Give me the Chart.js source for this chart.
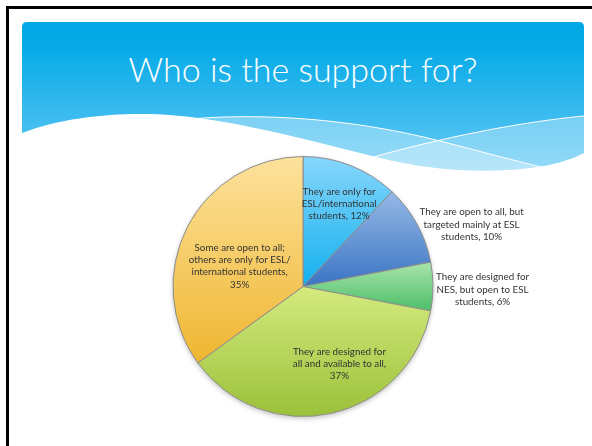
<!DOCTYPE html>
<html>
<head>
<meta charset="utf-8">
<script src="https://cdn.jsdelivr.net/npm/chart.js@4.4.0/dist/chart.umd.min.js"></script>
<style>
  html, body { margin: 0; padding: 0; background: #fff; }
  body { width: 592px; height: 446px; position: relative; overflow: hidden; }
  #frame { position: absolute; left: 6px; top: 6px; width: 620px; height: 480px; border: 3px solid #000; box-sizing: border-box; }
  #deco { position: absolute; left: 0; top: 0; }
  #title { position: absolute; left: 22px; width: 562px; top: 49px; text-align: center; color: #fff;
           font-family: Lato, "Open Sans", sans-serif; font-weight: 300; font-size: 34px; line-height: 40px; }
  #wrap { position: absolute; left: 0; top: 0; width: 592px; height: 446px; }
</style>
</head>
<body>
<div id="frame"></div>
<svg id="deco" width="592" height="446" viewBox="0 0 592 446">
  <defs>
    <linearGradient id="hdr" x1="0" y1="0" x2="0" y2="1">
      <stop offset="0" stop-color="#00a8e6"/>
      <stop offset="0.15" stop-color="#06aae7"/>
      <stop offset="1" stop-color="#6ccbf6"/>
    </linearGradient>
  </defs>
  <path d="M22,27 Q22,22 27,22 L579,22 Q584,22 584,27 L584,180 L22,180 Z" fill="url(#hdr)"/>
  <!-- light bands -->
  <path d="M190,119 C260,113 350,118 440,141 C490,154 520,162 545,168 L545,180 L190,180 Z" fill="#fff" fill-opacity="0.33"/>
  <path d="M370,158 C440,138 520,122 584,116 L584,180 L370,180 Z" fill="#fff" fill-opacity="0.3"/>
  <path d="M190,119 C260,113 350,118 440,141 C490,154 520,162 545,168" fill="none" stroke="#fff" stroke-width="1"/>
  <path d="M370,158 C440,138 520,122 584,116" fill="none" stroke="#fff" stroke-width="1"/>
  <!-- white wave -->
  <path d="M22,133 C60,118 110,113 150,114 C220,116 300,138 380,158 C430,170 480,174 530,168 C555,165 570,160 584,153 L584,200 L22,200 Z" fill="#fff"/>
</svg>
<div id="title">Who is the support for?</div>
<div id="wrap"><canvas id="pie" width="592" height="446"></canvas></div>
<script>
// slices clockwise from 12 o'clock
const categories = [
  ['They are only for', 'ESL/international', 'students,'],
  ['They are open to all, but', 'targeted mainly at ESL', 'students,'],
  ['They are designed for', 'NES, but open to ESL', 'students,'],
  ['They are designed for', 'all and available to all,', ''],
  ['Some are open to all;', 'others are only for ESL/', 'international students,', '']
];
const values = [12, 10, 6, 37, 35];

// top / bottom colours of each slice gradient
const topColors = ['#86d6fb', '#96b9e6', '#a8e4ab', '#d4ea7e', '#fde29d'];
const bottomColors = ['#14b0ee', '#3a74c4', '#4cbf68', '#9bc13a', '#efb630'];
const labelInside = [true, false, false, true, true];
// small hand shifts of the label boxes (px), like Excel's own placement
const labelNudge = [[5, -4], [0, 2], [0, 3], [18, -5], [12, 18]];

function sliceYRange(cy, r, a0, a1) {
  let ys = [cy, cy + r * Math.sin(a0), cy + r * Math.sin(a1)];
  const twoPi = Math.PI * 2;
  [Math.PI / 2, -Math.PI / 2].forEach(a => {
    for (let k = -2; k <= 2; k++) {
      const t = a + k * twoPi;
      if (t >= a0 && t <= a1) ys.push(cy + r * Math.sin(t));
    }
  });
  return [Math.min(...ys), Math.max(...ys)];
}

const gradientPlugin = {
  id: 'sliceGradients',
  beforeDatasetsDraw(chart) {
    const ctx = chart.ctx;
    const meta = chart.getDatasetMeta(0);
    // soft shadow under the whole pie
    const a = meta.data[0].getProps(['x', 'y', 'outerRadius'], true);
    ctx.save();
    ctx.shadowColor = 'rgba(0,0,0,0.25)';
    ctx.shadowBlur = 5;
    ctx.shadowOffsetY = 2;
    ctx.fillStyle = '#fff';
    ctx.beginPath();
    ctx.arc(a.x, a.y, a.outerRadius, 0, Math.PI * 2);
    ctx.fill();
    ctx.restore();

    meta.data.forEach((arc, i) => {
      const p = arc.getProps(['x', 'y', 'startAngle', 'endAngle', 'outerRadius'], true);
      const [y0, y1] = sliceYRange(p.y, p.outerRadius, p.startAngle, p.endAngle);
      const g = ctx.createLinearGradient(0, y0, 0, y1);
      g.addColorStop(0, topColors[i]);
      g.addColorStop(1, bottomColors[i]);
      arc.options.backgroundColor = g;
    });
  }
};

const labelPlugin = {
  id: 'sliceLabels',
  afterDatasetsDraw(chart) {
    const ctx = chart.ctx;
    const meta = chart.getDatasetMeta(0);
    const lineH = 12.3;
    ctx.save();
    ctx.font = '9.8px Lato, "Open Sans", sans-serif';
    ctx.fillStyle = '#333';
    ctx.textBaseline = 'middle';
    ctx.textAlign = 'center';
    meta.data.forEach((arc, i) => {
      const p = arc.getProps(['x', 'y', 'startAngle', 'endAngle', 'outerRadius'], true);
      const mid = (p.startAngle + p.endAngle) / 2;
      const lines = categories[i].slice();
      const last = lines.length - 1;
      lines[last] = (lines[last] ? lines[last] + ' ' : '') + values[i] + '%';
      const w = Math.max(...lines.map(l => ctx.measureText(l).width));
      let cx, cy;
      if (labelInside[i]) {
        cx = p.x + Math.cos(mid) * p.outerRadius * 0.65;
        cy = p.y + Math.sin(mid) * p.outerRadius * 0.65;
      } else {
        cx = p.x + Math.cos(mid) * (p.outerRadius + 3) + w / 2;
        cy = p.y + Math.sin(mid) * (p.outerRadius + 3);
      }
      cx += labelNudge[i][0];
      cy += labelNudge[i][1];
      const top = cy - (lines.length - 1) * lineH / 2;
      lines.forEach((l, k) => ctx.fillText(l, cx, top + k * lineH));
    });
    ctx.restore();
  }
};

new Chart(document.getElementById('pie'), {
  type: 'pie',
  data: {
    labels: categories,
    datasets: [{
      data: values,
      backgroundColor: topColors,
      borderColor: '#8c8c8c',
      borderWidth: 1
    }]
  },
  options: {
    responsive: false,
    animation: false,
    layout: { padding: { top: 156, bottom: 29, left: 100, right: 86 } },
    plugins: {
      legend: { display: false },
      tooltip: { enabled: false }
    }
  },
  plugins: [gradientPlugin, labelPlugin]
});
</script>
</body>
</html>
